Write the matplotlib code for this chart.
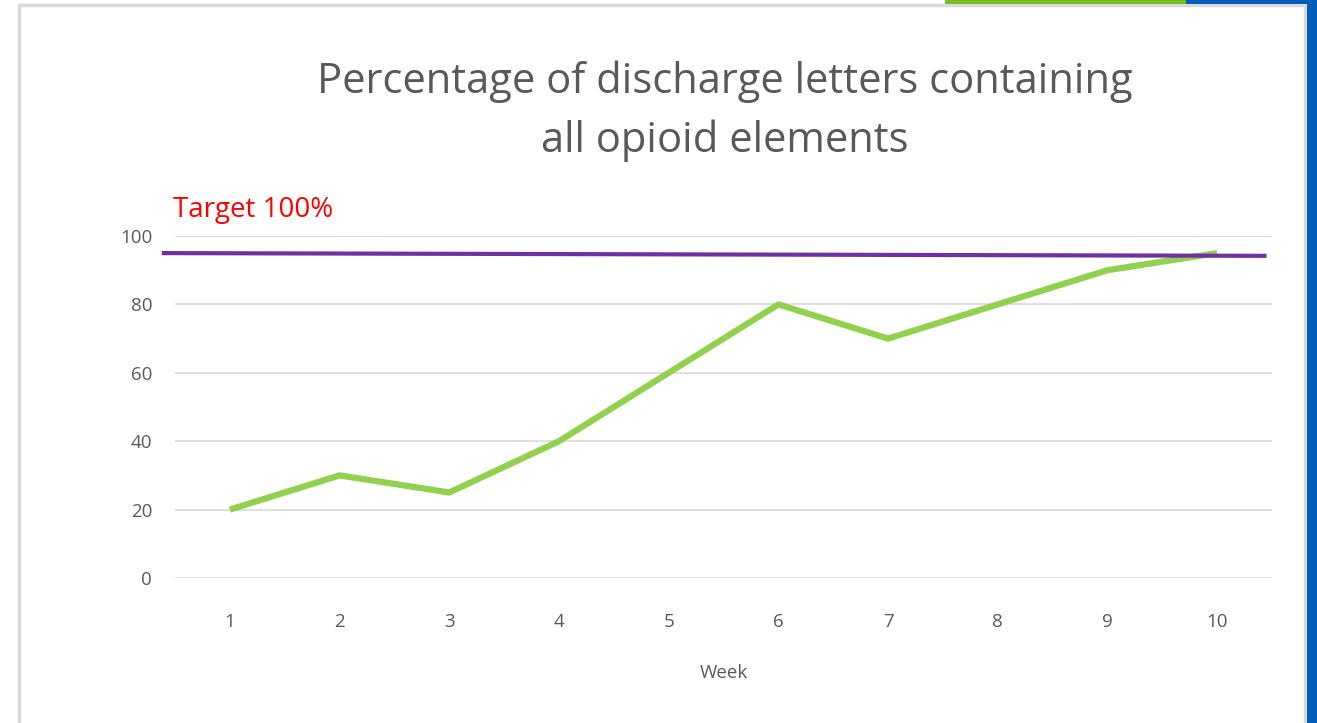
import matplotlib.pyplot as plt
from matplotlib.patches import Rectangle

# Data
weeks = [1, 2, 3, 4, 5, 6, 7, 8, 9, 10]
pct_complete = [20, 30, 25, 40, 60, 80, 70, 80, 90, 95]
y_ticks = [0, 20, 40, 60, 80, 100]

# Hand-drawn target line (slightly sloped, overhangs the plot area)
target_x = [0.38, 10.45]
target_y = [95, 94.2]

W, H = 1317, 723
fig = plt.figure(figsize=(W / 100, H / 100), dpi=100)
plt.rcParams['font.family'] = ['Open Sans', 'DejaVu Sans']

# Slide frame decorations
fig.patches.append(Rectangle((19 / W, -0.05), (1305 - 19) / W, 1.05 - 5 / H, transform=fig.transFigure,
                             facecolor='white', edgecolor='#d9d9d9', linewidth=2.5, zorder=0))
fig.patches.append(Rectangle((945 / W, 1 - 4 / H), (1186 - 945) / W, 4 / H, transform=fig.transFigure,
                             facecolor='#78be20', edgecolor='none', zorder=1))
fig.patches.append(Rectangle((1186 / W, 1 - 4 / H), (W - 1186) / W, 4 / H, transform=fig.transFigure,
                             facecolor='#005eb8', edgecolor='none', zorder=1))
fig.patches.append(Rectangle((1307 / W, 0), (W - 1307) / W, 1, transform=fig.transFigure,
                             facecolor='#005eb8', edgecolor='none', zorder=1))

ax = fig.add_axes([175 / W, 1 - 578 / H, (1272 - 175) / W, (578 - 236) / H])
ax.set_zorder(3)
ax.set_facecolor('none')

ax.plot(weeks, pct_complete, color='#92d050', linewidth=4.5, solid_capstyle='butt', zorder=3)
ax.plot(target_x, target_y, color='#7030a0', linewidth=3, solid_capstyle='butt', clip_on=False, zorder=4)

ax.set_xlim(0.5, 10.5)
ax.set_ylim(0, 100)
ax.set_xticks(weeks)
ax.set_yticks(y_ticks)
ax.yaxis.grid(True, color='#d9d9d9', linewidth=1.2)
ax.set_axisbelow(True)
for s in ax.spines.values():
    s.set_visible(False)
ax.tick_params(axis='both', length=0, labelsize=13.5, labelcolor='#595959')
ax.tick_params(axis='y', pad=16.5)
ax.tick_params(axis='x', pad=25)

ax.set_xlabel('Week', fontsize=13.5, color='#595959', labelpad=24)

fig.text(725 / W, 1 - 111.5 / H, 'Percentage of discharge letters containing\nall opioid elements',
         ha='center', va='center', fontsize=30, color='#595959', linespacing=1.52, zorder=5)
fig.text(173 / W, 1 - 210 / H, 'Target 100%', ha='left', va='center', fontsize=20, color='#ff0000', zorder=5)

fig.savefig('out.png', dpi=100)
